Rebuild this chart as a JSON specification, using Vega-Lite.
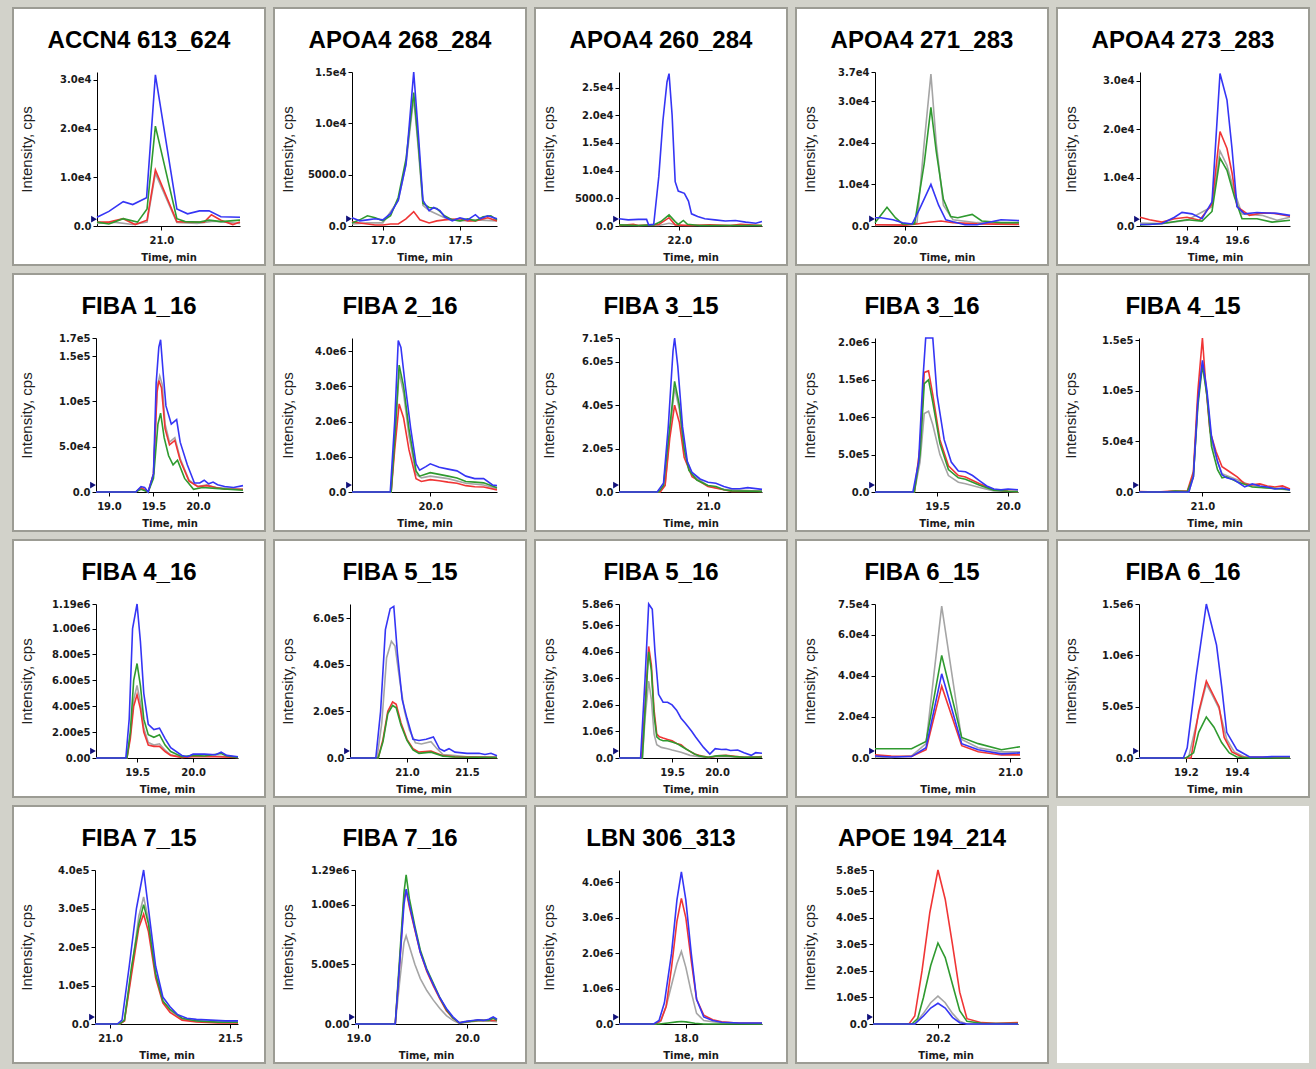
{
"$schema":"https://vega.github.io/schema/vega-lite/v6.json",
"padding":{"left":12,"top":7,"right":6,"bottom":5},
"background":"#d2d2ca",
"columns":5,
"spacing":9,
"bounds":"flush",
"datasets":{
"p1":[{"s":"k","t":20.73,"v":500},{"s":"k","t":20.8,"v":800},{"s":"k","t":20.88,"v":300},{"s":"k","t":20.94,"v":800},{"s":"k","t":20.975,"v":10800},{"s":"k","t":21.065,"v":700},{"s":"k","t":21.15,"v":500},{"s":"k","t":21.22,"v":1000},{"s":"k","t":21.33,"v":500},
{"s":"r","t":20.73,"v":800},{"s":"r","t":20.78,"v":800},{"s":"r","t":20.84,"v":1500},{"s":"r","t":20.89,"v":300},{"s":"r","t":20.94,"v":1200},{"s":"r","t":20.975,"v":11500},{"s":"r","t":21.065,"v":900},{"s":"r","t":21.12,"v":800},{"s":"r","t":21.18,"v":800},{"s":"r","t":21.21,"v":2300},{"s":"r","t":21.25,"v":1200},{"s":"r","t":21.3,"v":300},{"s":"r","t":21.33,"v":800},
{"s":"g","t":20.73,"v":800},{"s":"g","t":20.78,"v":400},{"s":"g","t":20.84,"v":1500},{"s":"g","t":20.9,"v":800},{"s":"g","t":20.94,"v":3500},{"s":"g","t":20.975,"v":20500},{"s":"g","t":21.065,"v":1500},{"s":"g","t":21.1,"v":900},{"s":"g","t":21.16,"v":800},{"s":"g","t":21.2,"v":1200},{"s":"g","t":21.25,"v":900},{"s":"g","t":21.33,"v":1200},
{"s":"b","t":20.73,"v":1800},{"s":"b","t":20.78,"v":3000},{"s":"b","t":20.84,"v":5000},{"s":"b","t":20.88,"v":4400},{"s":"b","t":20.938,"v":5800},{"s":"b","t":20.975,"v":31000},{"s":"b","t":21.065,"v":3500},{"s":"b","t":21.11,"v":2500},{"s":"b","t":21.16,"v":3100},{"s":"b","t":21.2,"v":3100},{"s":"b","t":21.25,"v":1900},{"s":"b","t":21.33,"v":1800},
{"s":"m","t":20.73,"v":1400}],
"p2":[{"s":"k","t":16.8,"v":200},{"s":"k","t":16.9,"v":300},{"s":"k","t":17.0,"v":300},{"s":"k","t":17.1,"v":2500},{"s":"k","t":17.15,"v":6000},{"s":"k","t":17.2,"v":12500},{"s":"k","t":17.23,"v":7500},{"s":"k","t":17.26,"v":2000},{"s":"k","t":17.3,"v":1500},{"s":"k","t":17.4,"v":800},{"s":"k","t":17.5,"v":500},{"s":"k","t":17.6,"v":600},{"s":"k","t":17.74,"v":500},
{"s":"r","t":16.8,"v":400},{"s":"r","t":16.85,"v":300},{"s":"r","t":16.9,"v":200},{"s":"r","t":16.95,"v":100},{"s":"r","t":17.0,"v":100},{"s":"r","t":17.05,"v":200},{"s":"r","t":17.1,"v":200},{"s":"r","t":17.15,"v":700},{"s":"r","t":17.2,"v":1400},{"s":"r","t":17.24,"v":600},{"s":"r","t":17.3,"v":300},{"s":"r","t":17.35,"v":500},{"s":"r","t":17.4,"v":600},{"s":"r","t":17.5,"v":700},{"s":"r","t":17.55,"v":500},{"s":"r","t":17.6,"v":500},{"s":"r","t":17.68,"v":800},{"s":"r","t":17.74,"v":500},
{"s":"g","t":16.8,"v":300},{"s":"g","t":16.85,"v":600},{"s":"g","t":16.9,"v":1000},{"s":"g","t":16.95,"v":800},{"s":"g","t":17.0,"v":500},{"s":"g","t":17.05,"v":1000},{"s":"g","t":17.1,"v":2800},{"s":"g","t":17.15,"v":6500},{"s":"g","t":17.2,"v":13000},{"s":"g","t":17.23,"v":8000},{"s":"g","t":17.26,"v":2200},{"s":"g","t":17.3,"v":1800},{"s":"g","t":17.35,"v":1700},{"s":"g","t":17.4,"v":1000},{"s":"g","t":17.45,"v":600},{"s":"g","t":17.5,"v":500},{"s":"g","t":17.55,"v":700},{"s":"g","t":17.6,"v":500},{"s":"g","t":17.65,"v":900},{"s":"g","t":17.7,"v":1000},{"s":"g","t":17.74,"v":600},
{"s":"b","t":16.8,"v":800},{"s":"b","t":16.85,"v":500},{"s":"b","t":16.9,"v":600},{"s":"b","t":16.95,"v":700},{"s":"b","t":17.0,"v":600},{"s":"b","t":17.05,"v":1200},{"s":"b","t":17.1,"v":2500},{"s":"b","t":17.15,"v":6000},{"s":"b","t":17.2,"v":15000},{"s":"b","t":17.23,"v":9000},{"s":"b","t":17.26,"v":2500},{"s":"b","t":17.3,"v":1500},{"s":"b","t":17.33,"v":1800},{"s":"b","t":17.37,"v":1500},{"s":"b","t":17.4,"v":900},{"s":"b","t":17.45,"v":500},{"s":"b","t":17.5,"v":800},{"s":"b","t":17.55,"v":600},{"s":"b","t":17.6,"v":1100},{"s":"b","t":17.63,"v":700},{"s":"b","t":17.68,"v":1000},{"s":"b","t":17.74,"v":700},
{"s":"m","t":16.8,"v":700}],
"p3":[{"s":"k","t":21.41,"v":100},{"s":"k","t":21.8,"v":100},{"s":"k","t":21.9,"v":500},{"s":"k","t":22.0,"v":100},{"s":"k","t":22.81,"v":100},
{"s":"r","t":21.41,"v":100},{"s":"r","t":21.55,"v":300},{"s":"r","t":21.6,"v":100},{"s":"r","t":21.8,"v":300},{"s":"r","t":21.9,"v":1500},{"s":"r","t":21.96,"v":200},{"s":"r","t":22.1,"v":100},{"s":"r","t":22.3,"v":200},{"s":"r","t":22.5,"v":100},{"s":"r","t":22.6,"v":300},{"s":"r","t":22.81,"v":100},
{"s":"g","t":21.41,"v":200},{"s":"g","t":21.6,"v":100},{"s":"g","t":21.75,"v":200},{"s":"g","t":21.82,"v":800},{"s":"g","t":21.9,"v":2000},{"s":"g","t":21.96,"v":800},{"s":"g","t":21.99,"v":300},{"s":"g","t":22.04,"v":1000},{"s":"g","t":22.08,"v":300},{"s":"g","t":22.2,"v":100},{"s":"g","t":22.5,"v":100},{"s":"g","t":22.81,"v":100},
{"s":"b","t":21.41,"v":1300},{"s":"b","t":21.5,"v":1100},{"s":"b","t":21.6,"v":1200},{"s":"b","t":21.68,"v":1200},{"s":"b","t":21.7,"v":200},{"s":"b","t":21.75,"v":300},{"s":"b","t":21.8,"v":9000},{"s":"b","t":21.84,"v":19000},{"s":"b","t":21.88,"v":26000},{"s":"b","t":21.9,"v":27500},{"s":"b","t":21.93,"v":20000},{"s":"b","t":21.96,"v":8000},{"s":"b","t":21.99,"v":6300},{"s":"b","t":22.05,"v":5900},{"s":"b","t":22.09,"v":4500},{"s":"b","t":22.12,"v":2200},{"s":"b","t":22.18,"v":1700},{"s":"b","t":22.25,"v":1300},{"s":"b","t":22.35,"v":1100},{"s":"b","t":22.45,"v":900},{"s":"b","t":22.55,"v":1000},{"s":"b","t":22.65,"v":700},{"s":"b","t":22.75,"v":500},{"s":"b","t":22.81,"v":800},
{"s":"m","t":21.41,"v":1250}],
"p4":[{"s":"k","t":19.875,"v":300},{"s":"k","t":20.0,"v":300},{"s":"k","t":20.05,"v":800},{"s":"k","t":20.08,"v":20000},{"s":"k","t":20.108,"v":36500},{"s":"k","t":20.13,"v":20000},{"s":"k","t":20.16,"v":5000},{"s":"k","t":20.2,"v":1500},{"s":"k","t":20.3,"v":800},{"s":"k","t":20.475,"v":500},
{"s":"r","t":19.875,"v":300},{"s":"r","t":20.0,"v":200},{"s":"r","t":20.05,"v":500},{"s":"r","t":20.1,"v":900},{"s":"r","t":20.15,"v":1200},{"s":"r","t":20.2,"v":800},{"s":"r","t":20.3,"v":500},{"s":"r","t":20.475,"v":400},
{"s":"g","t":19.875,"v":800},{"s":"g","t":19.925,"v":4500},{"s":"g","t":19.96,"v":2000},{"s":"g","t":19.99,"v":500},{"s":"g","t":20.04,"v":500},{"s":"g","t":20.08,"v":15000},{"s":"g","t":20.108,"v":28500},{"s":"g","t":20.13,"v":18000},{"s":"g","t":20.16,"v":6400},{"s":"g","t":20.19,"v":2300},{"s":"g","t":20.22,"v":2000},{"s":"g","t":20.28,"v":2800},{"s":"g","t":20.32,"v":1200},{"s":"g","t":20.4,"v":800},{"s":"g","t":20.475,"v":800},
{"s":"b","t":19.875,"v":2000},{"s":"b","t":19.9,"v":2000},{"s":"b","t":19.95,"v":1500},{"s":"b","t":19.99,"v":800},{"s":"b","t":20.03,"v":500},{"s":"b","t":20.06,"v":4000},{"s":"b","t":20.108,"v":10000},{"s":"b","t":20.14,"v":5000},{"s":"b","t":20.17,"v":1500},{"s":"b","t":20.2,"v":1000},{"s":"b","t":20.25,"v":300},{"s":"b","t":20.3,"v":300},{"s":"b","t":20.35,"v":900},{"s":"b","t":20.4,"v":1500},{"s":"b","t":20.475,"v":1300},
{"s":"m","t":19.875,"v":1700}],
"p5":[{"s":"k","t":19.212,"v":600},{"s":"k","t":19.3,"v":500},{"s":"k","t":19.4,"v":1200},{"s":"k","t":19.5,"v":4000},{"s":"k","t":19.532,"v":15500},{"s":"k","t":19.56,"v":12500},{"s":"k","t":19.59,"v":7000},{"s":"k","t":19.62,"v":2500},{"s":"k","t":19.7,"v":2200},{"s":"k","t":19.76,"v":1200},{"s":"k","t":19.812,"v":1800},
{"s":"r","t":19.212,"v":1800},{"s":"r","t":19.25,"v":1300},{"s":"r","t":19.3,"v":800},{"s":"r","t":19.35,"v":1500},{"s":"r","t":19.4,"v":1800},{"s":"r","t":19.45,"v":1200},{"s":"r","t":19.5,"v":4500},{"s":"r","t":19.532,"v":19500},{"s":"r","t":19.56,"v":16000},{"s":"r","t":19.58,"v":11000},{"s":"r","t":19.6,"v":4000},{"s":"r","t":19.65,"v":2200},{"s":"r","t":19.7,"v":2700},{"s":"r","t":19.75,"v":2600},{"s":"r","t":19.812,"v":2000},
{"s":"g","t":19.212,"v":200},{"s":"g","t":19.3,"v":500},{"s":"g","t":19.4,"v":1300},{"s":"g","t":19.46,"v":1000},{"s":"g","t":19.5,"v":3000},{"s":"g","t":19.532,"v":14000},{"s":"g","t":19.56,"v":11500},{"s":"g","t":19.59,"v":6000},{"s":"g","t":19.62,"v":1500},{"s":"g","t":19.68,"v":1500},{"s":"g","t":19.74,"v":800},{"s":"g","t":19.812,"v":1200},
{"s":"b","t":19.212,"v":300},{"s":"b","t":19.25,"v":300},{"s":"b","t":19.3,"v":500},{"s":"b","t":19.35,"v":1800},{"s":"b","t":19.38,"v":2800},{"s":"b","t":19.42,"v":2500},{"s":"b","t":19.46,"v":1500},{"s":"b","t":19.5,"v":5000},{"s":"b","t":19.532,"v":31500},{"s":"b","t":19.56,"v":26000},{"s":"b","t":19.58,"v":16000},{"s":"b","t":19.6,"v":4000},{"s":"b","t":19.63,"v":2500},{"s":"b","t":19.68,"v":2800},{"s":"b","t":19.72,"v":2700},{"s":"b","t":19.76,"v":2600},{"s":"b","t":19.812,"v":2200},
{"s":"m","t":19.212,"v":1400}],
"p6":[{"s":"k","t":18.854,"v":0},{"s":"k","t":19.3,"v":0},{"s":"k","t":19.36,"v":4000},{"s":"k","t":19.44,"v":0},{"s":"k","t":19.5,"v":20000},{"s":"k","t":19.54,"v":115000},{"s":"k","t":19.57,"v":128000},{"s":"k","t":19.6,"v":118000},{"s":"k","t":19.63,"v":75000},{"s":"k","t":19.68,"v":55000},{"s":"k","t":19.74,"v":60000},{"s":"k","t":19.8,"v":37000},{"s":"k","t":19.9,"v":13000},{"s":"k","t":20.0,"v":6000},{"s":"k","t":20.1,"v":8000},{"s":"k","t":20.2,"v":5000},{"s":"k","t":20.506,"v":3000},
{"s":"r","t":18.854,"v":0},{"s":"r","t":19.3,"v":0},{"s":"r","t":19.36,"v":5000},{"s":"r","t":19.44,"v":0},{"s":"r","t":19.5,"v":20000},{"s":"r","t":19.54,"v":110000},{"s":"r","t":19.56,"v":123000},{"s":"r","t":19.59,"v":115000},{"s":"r","t":19.63,"v":70000},{"s":"r","t":19.68,"v":52000},{"s":"r","t":19.74,"v":57000},{"s":"r","t":19.8,"v":35000},{"s":"r","t":19.9,"v":12000},{"s":"r","t":20.0,"v":6000},{"s":"r","t":20.1,"v":7000},{"s":"r","t":20.2,"v":5000},{"s":"r","t":20.3,"v":3000},{"s":"r","t":20.506,"v":3000},
{"s":"g","t":18.854,"v":0},{"s":"g","t":19.3,"v":0},{"s":"g","t":19.36,"v":3000},{"s":"g","t":19.44,"v":0},{"s":"g","t":19.5,"v":15000},{"s":"g","t":19.55,"v":75000},{"s":"g","t":19.58,"v":87000},{"s":"g","t":19.62,"v":60000},{"s":"g","t":19.67,"v":40000},{"s":"g","t":19.72,"v":30000},{"s":"g","t":19.77,"v":35000},{"s":"g","t":19.85,"v":15000},{"s":"g","t":19.95,"v":3000},{"s":"g","t":20.05,"v":5000},{"s":"g","t":20.2,"v":4000},{"s":"g","t":20.506,"v":2000},
{"s":"b","t":18.854,"v":0},{"s":"b","t":19.3,"v":0},{"s":"b","t":19.36,"v":6000},{"s":"b","t":19.4,"v":5000},{"s":"b","t":19.44,"v":0},{"s":"b","t":19.5,"v":20000},{"s":"b","t":19.53,"v":120000},{"s":"b","t":19.56,"v":160000},{"s":"b","t":19.58,"v":168000},{"s":"b","t":19.61,"v":130000},{"s":"b","t":19.64,"v":95000},{"s":"b","t":19.7,"v":75000},{"s":"b","t":19.76,"v":80000},{"s":"b","t":19.8,"v":55000},{"s":"b","t":19.88,"v":30000},{"s":"b","t":19.96,"v":10000},{"s":"b","t":20.02,"v":10000},{"s":"b","t":20.07,"v":13000},{"s":"b","t":20.12,"v":9000},{"s":"b","t":20.17,"v":11000},{"s":"b","t":20.22,"v":8000},{"s":"b","t":20.3,"v":6000},{"s":"b","t":20.4,"v":5000},{"s":"b","t":20.506,"v":7000},
{"s":"m","t":18.854,"v":7600}],
"p7":[{"s":"k","t":19.12,"v":0},{"s":"k","t":19.56,"v":0},{"s":"k","t":19.6,"v":1400000},{"s":"k","t":19.65,"v":3400000},{"s":"k","t":19.7,"v":2800000},{"s":"k","t":19.76,"v":1600000},{"s":"k","t":19.84,"v":500000},{"s":"k","t":19.9,"v":400000},{"s":"k","t":20.0,"v":450000},{"s":"k","t":20.2,"v":380000},{"s":"k","t":20.4,"v":250000},{"s":"k","t":20.6,"v":200000},{"s":"k","t":20.75,"v":100000},
{"s":"r","t":19.12,"v":0},{"s":"r","t":19.56,"v":0},{"s":"r","t":19.6,"v":1200000},{"s":"r","t":19.65,"v":2500000},{"s":"r","t":19.7,"v":2100000},{"s":"r","t":19.76,"v":1200000},{"s":"r","t":19.84,"v":380000},{"s":"r","t":19.9,"v":300000},{"s":"r","t":20.0,"v":350000},{"s":"r","t":20.1,"v":320000},{"s":"r","t":20.2,"v":280000},{"s":"r","t":20.3,"v":250000},{"s":"r","t":20.4,"v":180000},{"s":"r","t":20.5,"v":150000},{"s":"r","t":20.6,"v":140000},{"s":"r","t":20.75,"v":60000},
{"s":"g","t":19.12,"v":0},{"s":"g","t":19.56,"v":0},{"s":"g","t":19.6,"v":1500000},{"s":"g","t":19.65,"v":3600000},{"s":"g","t":19.7,"v":3000000},{"s":"g","t":19.76,"v":1800000},{"s":"g","t":19.84,"v":600000},{"s":"g","t":19.88,"v":450000},{"s":"g","t":20.0,"v":550000},{"s":"g","t":20.1,"v":500000},{"s":"g","t":20.2,"v":450000},{"s":"g","t":20.3,"v":400000},{"s":"g","t":20.4,"v":300000},{"s":"g","t":20.5,"v":280000},{"s":"g","t":20.6,"v":260000},{"s":"g","t":20.75,"v":120000},
{"s":"b","t":19.12,"v":0},{"s":"b","t":19.55,"v":0},{"s":"b","t":19.6,"v":2000000},{"s":"b","t":19.64,"v":4300000},{"s":"b","t":19.67,"v":4100000},{"s":"b","t":19.72,"v":3000000},{"s":"b","t":19.78,"v":1800000},{"s":"b","t":19.84,"v":800000},{"s":"b","t":19.88,"v":620000},{"s":"b","t":19.95,"v":720000},{"s":"b","t":20.0,"v":800000},{"s":"b","t":20.1,"v":700000},{"s":"b","t":20.2,"v":650000},{"s":"b","t":20.3,"v":600000},{"s":"b","t":20.4,"v":450000},{"s":"b","t":20.5,"v":380000},{"s":"b","t":20.6,"v":380000},{"s":"b","t":20.7,"v":200000},{"s":"b","t":20.75,"v":180000},
{"s":"m","t":19.12,"v":197000}],
"p8":[{"s":"k","t":20.44,"v":0},{"s":"k","t":20.69,"v":0},{"s":"k","t":20.73,"v":30000},{"s":"k","t":20.76,"v":280000},{"s":"k","t":20.79,"v":480000},{"s":"k","t":20.82,"v":380000},{"s":"k","t":20.85,"v":180000},{"s":"k","t":20.9,"v":80000},{"s":"k","t":21.0,"v":28000},{"s":"k","t":21.1,"v":12000},{"s":"k","t":21.34,"v":3000},
{"s":"r","t":20.44,"v":0},{"s":"r","t":20.7,"v":0},{"s":"r","t":20.73,"v":30000},{"s":"r","t":20.76,"v":250000},{"s":"r","t":20.79,"v":400000},{"s":"r","t":20.82,"v":320000},{"s":"r","t":20.85,"v":160000},{"s":"r","t":20.9,"v":70000},{"s":"r","t":21.0,"v":25000},{"s":"r","t":21.1,"v":10000},{"s":"r","t":21.15,"v":2000},{"s":"r","t":21.34,"v":2000},
{"s":"g","t":20.44,"v":0},{"s":"g","t":20.69,"v":0},{"s":"g","t":20.72,"v":30000},{"s":"g","t":20.76,"v":300000},{"s":"g","t":20.79,"v":510000},{"s":"g","t":20.82,"v":400000},{"s":"g","t":20.85,"v":200000},{"s":"g","t":20.88,"v":100000},{"s":"g","t":20.93,"v":55000},{"s":"g","t":21.0,"v":30000},{"s":"g","t":21.05,"v":25000},{"s":"g","t":21.1,"v":10000},{"s":"g","t":21.15,"v":5000},{"s":"g","t":21.34,"v":3000},
{"s":"b","t":20.44,"v":0},{"s":"b","t":20.68,"v":0},{"s":"b","t":20.72,"v":40000},{"s":"b","t":20.75,"v":300000},{"s":"b","t":20.78,"v":650000},{"s":"b","t":20.79,"v":710000},{"s":"b","t":20.81,"v":580000},{"s":"b","t":20.84,"v":300000},{"s":"b","t":20.87,"v":140000},{"s":"b","t":20.9,"v":90000},{"s":"b","t":20.95,"v":60000},{"s":"b","t":21.0,"v":45000},{"s":"b","t":21.05,"v":40000},{"s":"b","t":21.1,"v":25000},{"s":"b","t":21.15,"v":15000},{"s":"b","t":21.2,"v":15000},{"s":"b","t":21.25,"v":20000},{"s":"b","t":21.34,"v":12000},
{"s":"m","t":20.44,"v":32000}],
"p9":[{"s":"k","t":19.063,"v":0},{"s":"k","t":19.34,"v":0},{"s":"k","t":19.38,"v":400000},{"s":"k","t":19.41,"v":1050000},{"s":"k","t":19.44,"v":1080000},{"s":"k","t":19.47,"v":900000},{"s":"k","t":19.52,"v":500000},{"s":"k","t":19.58,"v":220000},{"s":"k","t":19.65,"v":130000},{"s":"k","t":19.7,"v":110000},{"s":"k","t":19.8,"v":60000},{"s":"k","t":19.9,"v":15000},{"s":"k","t":20.07,"v":5000},
{"s":"r","t":19.063,"v":0},{"s":"r","t":19.34,"v":0},{"s":"r","t":19.38,"v":600000},{"s":"r","t":19.41,"v":1600000},{"s":"r","t":19.44,"v":1620000},{"s":"r","t":19.47,"v":1300000},{"s":"r","t":19.52,"v":700000},{"s":"r","t":19.58,"v":350000},{"s":"r","t":19.65,"v":220000},{"s":"r","t":19.7,"v":200000},{"s":"r","t":19.8,"v":110000},{"s":"r","t":19.9,"v":30000},{"s":"r","t":20.0,"v":10000},{"s":"r","t":20.07,"v":5000},
{"s":"g","t":19.063,"v":0},{"s":"g","t":19.34,"v":0},{"s":"g","t":19.38,"v":500000},{"s":"g","t":19.41,"v":1450000},{"s":"g","t":19.44,"v":1500000},{"s":"g","t":19.47,"v":1200000},{"s":"g","t":19.52,"v":650000},{"s":"g","t":19.58,"v":300000},{"s":"g","t":19.65,"v":190000},{"s":"g","t":19.7,"v":170000},{"s":"g","t":19.8,"v":90000},{"s":"g","t":19.9,"v":25000},{"s":"g","t":20.0,"v":10000},{"s":"g","t":20.07,"v":5000},
{"s":"b","t":19.063,"v":0},{"s":"b","t":19.33,"v":0},{"s":"b","t":19.37,"v":400000},{"s":"b","t":19.4,"v":1500000},{"s":"b","t":19.42,"v":2060000},{"s":"b","t":19.47,"v":2060000},{"s":"b","t":19.5,"v":1300000},{"s":"b","t":19.55,"v":700000},{"s":"b","t":19.6,"v":400000},{"s":"b","t":19.65,"v":280000},{"s":"b","t":19.7,"v":270000},{"s":"b","t":19.75,"v":220000},{"s":"b","t":19.8,"v":150000},{"s":"b","t":19.85,"v":80000},{"s":"b","t":19.9,"v":40000},{"s":"b","t":19.95,"v":30000},{"s":"b","t":20.0,"v":40000},{"s":"b","t":20.07,"v":30000},
{"s":"m","t":19.063,"v":93000}],
"p10":[{"s":"k","t":20.58,"v":0},{"s":"k","t":20.91,"v":0},{"s":"k","t":20.94,"v":15000},{"s":"k","t":20.97,"v":90000},{"s":"k","t":21.0,"v":128000},{"s":"k","t":21.03,"v":96000},{"s":"k","t":21.06,"v":50000},{"s":"k","t":21.1,"v":30000},{"s":"k","t":21.13,"v":18000},{"s":"k","t":21.23,"v":12000},{"s":"k","t":21.33,"v":6000},{"s":"k","t":21.43,"v":4000},{"s":"k","t":21.58,"v":2000},
{"s":"r","t":20.58,"v":500},{"s":"r","t":20.7,"v":0},{"s":"r","t":20.8,"v":1000},{"s":"r","t":20.9,"v":1000},{"s":"r","t":20.94,"v":20000},{"s":"r","t":20.97,"v":100000},{"s":"r","t":21.0,"v":152000},{"s":"r","t":21.02,"v":110000},{"s":"r","t":21.05,"v":60000},{"s":"r","t":21.09,"v":40000},{"s":"r","t":21.13,"v":25000},{"s":"r","t":21.18,"v":20000},{"s":"r","t":21.23,"v":15000},{"s":"r","t":21.28,"v":8000},{"s":"r","t":21.33,"v":7000},{"s":"r","t":21.38,"v":8000},{"s":"r","t":21.43,"v":6000},{"s":"r","t":21.48,"v":5000},{"s":"r","t":21.53,"v":6000},{"s":"r","t":21.58,"v":3000},
{"s":"g","t":20.58,"v":0},{"s":"g","t":20.75,"v":0},{"s":"g","t":20.82,"v":1000},{"s":"g","t":20.9,"v":500},{"s":"g","t":20.94,"v":15000},{"s":"g","t":20.97,"v":85000},{"s":"g","t":21.0,"v":125000},{"s":"g","t":21.03,"v":95000},{"s":"g","t":21.06,"v":45000},{"s":"g","t":21.1,"v":22000},{"s":"g","t":21.13,"v":14000},{"s":"g","t":21.16,"v":15000},{"s":"g","t":21.23,"v":10000},{"s":"g","t":21.33,"v":5000},{"s":"g","t":21.43,"v":4000},{"s":"g","t":21.53,"v":3000},{"s":"g","t":21.58,"v":2000},
{"s":"b","t":20.58,"v":0},{"s":"b","t":20.91,"v":0},{"s":"b","t":20.94,"v":15000},{"s":"b","t":20.97,"v":90000},{"s":"b","t":21.0,"v":130000},{"s":"b","t":21.03,"v":100000},{"s":"b","t":21.06,"v":55000},{"s":"b","t":21.1,"v":30000},{"s":"b","t":21.13,"v":17000},{"s":"b","t":21.16,"v":14000},{"s":"b","t":21.21,"v":12000},{"s":"b","t":21.28,"v":5000},{"s":"b","t":21.33,"v":8000},{"s":"b","t":21.38,"v":6000},{"s":"b","t":21.43,"v":5000},{"s":"b","t":21.48,"v":3000},{"s":"b","t":21.53,"v":4000},{"s":"b","t":21.58,"v":2000},
{"s":"m","t":20.58,"v":6800}],
"p11":[{"s":"k","t":19.134,"v":0},{"s":"k","t":19.41,"v":0},{"s":"k","t":19.44,"v":180000},{"s":"k","t":19.47,"v":450000},{"s":"k","t":19.5,"v":560000},{"s":"k","t":19.53,"v":430000},{"s":"k","t":19.56,"v":230000},{"s":"k","t":19.6,"v":120000},{"s":"k","t":19.65,"v":100000},{"s":"k","t":19.7,"v":110000},{"s":"k","t":19.75,"v":60000},{"s":"k","t":19.8,"v":25000},{"s":"k","t":19.9,"v":5000},{"s":"k","t":20.0,"v":15000},{"s":"k","t":20.2,"v":15000},{"s":"k","t":20.4,"v":5000},
{"s":"r","t":19.134,"v":0},{"s":"r","t":19.41,"v":0},{"s":"r","t":19.44,"v":150000},{"s":"r","t":19.47,"v":400000},{"s":"r","t":19.5,"v":490000},{"s":"r","t":19.53,"v":380000},{"s":"r","t":19.56,"v":200000},{"s":"r","t":19.6,"v":100000},{"s":"r","t":19.65,"v":90000},{"s":"r","t":19.7,"v":90000},{"s":"r","t":19.75,"v":50000},{"s":"r","t":19.8,"v":20000},{"s":"r","t":19.9,"v":5000},{"s":"r","t":20.0,"v":10000},{"s":"r","t":20.2,"v":10000},{"s":"r","t":20.4,"v":5000},
{"s":"g","t":19.134,"v":0},{"s":"g","t":19.41,"v":0},{"s":"g","t":19.44,"v":200000},{"s":"g","t":19.47,"v":600000},{"s":"g","t":19.5,"v":730000},{"s":"g","t":19.53,"v":560000},{"s":"g","t":19.56,"v":300000},{"s":"g","t":19.6,"v":180000},{"s":"g","t":19.65,"v":160000},{"s":"g","t":19.7,"v":180000},{"s":"g","t":19.75,"v":100000},{"s":"g","t":19.8,"v":50000},{"s":"g","t":19.9,"v":10000},{"s":"g","t":20.0,"v":20000},{"s":"g","t":20.1,"v":15000},{"s":"g","t":20.25,"v":35000},{"s":"g","t":20.3,"v":15000},{"s":"g","t":20.4,"v":5000},
{"s":"b","t":19.134,"v":0},{"s":"b","t":19.4,"v":0},{"s":"b","t":19.43,"v":300000},{"s":"b","t":19.46,"v":1000000},{"s":"b","t":19.5,"v":1190000},{"s":"b","t":19.53,"v":900000},{"s":"b","t":19.56,"v":500000},{"s":"b","t":19.6,"v":260000},{"s":"b","t":19.65,"v":220000},{"s":"b","t":19.7,"v":230000},{"s":"b","t":19.75,"v":150000},{"s":"b","t":19.8,"v":80000},{"s":"b","t":19.9,"v":20000},{"s":"b","t":19.95,"v":10000},{"s":"b","t":20.0,"v":30000},{"s":"b","t":20.1,"v":30000},{"s":"b","t":20.2,"v":25000},{"s":"b","t":20.25,"v":45000},{"s":"b","t":20.3,"v":20000},{"s":"b","t":20.4,"v":10000},
{"s":"m","t":19.134,"v":54000}],
"p12":[{"s":"k","t":20.525,"v":0},{"s":"k","t":20.75,"v":0},{"s":"k","t":20.79,"v":150000},{"s":"k","t":20.83,"v":430000},{"s":"k","t":20.87,"v":500000},{"s":"k","t":20.9,"v":480000},{"s":"k","t":20.94,"v":330000},{"s":"k","t":20.98,"v":200000},{"s":"k","t":21.02,"v":120000},{"s":"k","t":21.07,"v":65000},{"s":"k","t":21.12,"v":60000},{"s":"k","t":21.2,"v":70000},{"s":"k","t":21.25,"v":40000},{"s":"k","t":21.3,"v":15000},{"s":"k","t":21.4,"v":10000},{"s":"k","t":21.5,"v":5000},{"s":"k","t":21.75,"v":5000},
{"s":"r","t":20.525,"v":0},{"s":"r","t":20.76,"v":0},{"s":"r","t":20.8,"v":80000},{"s":"r","t":20.84,"v":200000},{"s":"r","t":20.88,"v":240000},{"s":"r","t":20.91,"v":230000},{"s":"r","t":20.95,"v":150000},{"s":"r","t":21.0,"v":80000},{"s":"r","t":21.05,"v":40000},{"s":"r","t":21.1,"v":25000},{"s":"r","t":21.2,"v":30000},{"s":"r","t":21.3,"v":10000},{"s":"r","t":21.4,"v":5000},{"s":"r","t":21.75,"v":2000},
{"s":"g","t":20.525,"v":0},{"s":"g","t":20.76,"v":0},{"s":"g","t":20.8,"v":70000},{"s":"g","t":20.84,"v":190000},{"s":"g","t":20.88,"v":225000},{"s":"g","t":20.91,"v":215000},{"s":"g","t":20.95,"v":140000},{"s":"g","t":21.0,"v":75000},{"s":"g","t":21.05,"v":35000},{"s":"g","t":21.1,"v":20000},{"s":"g","t":21.2,"v":25000},{"s":"g","t":21.3,"v":8000},{"s":"g","t":21.4,"v":4000},{"s":"g","t":21.75,"v":2000},
{"s":"b","t":20.525,"v":0},{"s":"b","t":20.74,"v":0},{"s":"b","t":20.78,"v":200000},{"s":"b","t":20.82,"v":550000},{"s":"b","t":20.86,"v":640000},{"s":"b","t":20.89,"v":650000},{"s":"b","t":20.92,"v":450000},{"s":"b","t":20.96,"v":250000},{"s":"b","t":21.0,"v":170000},{"s":"b","t":21.05,"v":80000},{"s":"b","t":21.1,"v":75000},{"s":"b","t":21.16,"v":80000},{"s":"b","t":21.22,"v":90000},{"s":"b","t":21.27,"v":40000},{"s":"b","t":21.31,"v":30000},{"s":"b","t":21.35,"v":40000},{"s":"b","t":21.4,"v":25000},{"s":"b","t":21.5,"v":20000},{"s":"b","t":21.6,"v":20000},{"s":"b","t":21.65,"v":15000},{"s":"b","t":21.7,"v":20000},{"s":"b","t":21.75,"v":10000},
{"s":"m","t":20.525,"v":30000}],
"p13":[{"s":"k","t":18.91,"v":0},{"s":"k","t":19.17,"v":0},{"s":"k","t":19.2,"v":1500000},{"s":"k","t":19.24,"v":2900000},{"s":"k","t":19.27,"v":2200000},{"s":"k","t":19.3,"v":900000},{"s":"k","t":19.33,"v":500000},{"s":"k","t":19.38,"v":400000},{"s":"k","t":19.45,"v":350000},{"s":"k","t":19.5,"v":300000},{"s":"k","t":19.6,"v":220000},{"s":"k","t":19.7,"v":100000},{"s":"k","t":19.8,"v":50000},{"s":"k","t":19.9,"v":20000},{"s":"k","t":20.0,"v":60000},{"s":"k","t":20.2,"v":40000},{"s":"k","t":20.5,"v":30000},
{"s":"r","t":18.91,"v":0},{"s":"r","t":19.16,"v":0},{"s":"r","t":19.2,"v":2000000},{"s":"r","t":19.24,"v":4200000},{"s":"r","t":19.27,"v":3500000},{"s":"r","t":19.3,"v":1800000},{"s":"r","t":19.33,"v":900000},{"s":"r","t":19.36,"v":800000},{"s":"r","t":19.4,"v":750000},{"s":"r","t":19.45,"v":700000},{"s":"r","t":19.5,"v":650000},{"s":"r","t":19.55,"v":550000},{"s":"r","t":19.6,"v":500000},{"s":"r","t":19.65,"v":350000},{"s":"r","t":19.7,"v":250000},{"s":"r","t":19.75,"v":150000},{"s":"r","t":19.8,"v":100000},{"s":"r","t":19.85,"v":60000},{"s":"r","t":19.92,"v":20000},{"s":"r","t":20.0,"v":80000},{"s":"r","t":20.1,"v":100000},{"s":"r","t":20.2,"v":60000},{"s":"r","t":20.3,"v":30000},{"s":"r","t":20.4,"v":30000},{"s":"r","t":20.5,"v":50000},
{"s":"g","t":18.91,"v":0},{"s":"g","t":19.17,"v":0},{"s":"g","t":19.2,"v":1800000},{"s":"g","t":19.24,"v":4000000},{"s":"g","t":19.27,"v":3300000},{"s":"g","t":19.3,"v":1600000},{"s":"g","t":19.33,"v":800000},{"s":"g","t":19.36,"v":700000},{"s":"g","t":19.4,"v":650000},{"s":"g","t":19.45,"v":650000},{"s":"g","t":19.5,"v":600000},{"s":"g","t":19.55,"v":550000},{"s":"g","t":19.6,"v":450000},{"s":"g","t":19.65,"v":350000},{"s":"g","t":19.7,"v":250000},{"s":"g","t":19.75,"v":150000},{"s":"g","t":19.8,"v":80000},{"s":"g","t":19.9,"v":30000},{"s":"g","t":20.0,"v":80000},{"s":"g","t":20.1,"v":90000},{"s":"g","t":20.2,"v":50000},{"s":"g","t":20.3,"v":30000},{"s":"g","t":20.5,"v":40000},
{"s":"b","t":18.91,"v":0},{"s":"b","t":19.15,"v":0},{"s":"b","t":19.2,"v":3000000},{"s":"b","t":19.24,"v":5800000},{"s":"b","t":19.28,"v":5600000},{"s":"b","t":19.31,"v":4000000},{"s":"b","t":19.35,"v":2400000},{"s":"b","t":19.4,"v":2100000},{"s":"b","t":19.45,"v":2100000},{"s":"b","t":19.5,"v":2000000},{"s":"b","t":19.55,"v":1800000},{"s":"b","t":19.6,"v":1500000},{"s":"b","t":19.65,"v":1300000},{"s":"b","t":19.72,"v":1000000},{"s":"b","t":19.76,"v":800000},{"s":"b","t":19.85,"v":400000},{"s":"b","t":19.92,"v":150000},{"s":"b","t":19.98,"v":350000},{"s":"b","t":20.05,"v":320000},{"s":"b","t":20.1,"v":330000},{"s":"b","t":20.15,"v":280000},{"s":"b","t":20.23,"v":300000},{"s":"b","t":20.3,"v":200000},{"s":"b","t":20.38,"v":100000},{"s":"b","t":20.43,"v":200000},{"s":"b","t":20.5,"v":180000},
{"s":"m","t":18.91,"v":260000}],
"p14":[{"s":"k","t":20.534,"v":500},{"s":"k","t":20.59,"v":300},{"s":"k","t":20.66,"v":1000},{"s":"k","t":20.71,"v":7000},{"s":"k","t":20.764,"v":74000},{"s":"k","t":20.833,"v":9000},{"s":"k","t":20.89,"v":5000},{"s":"k","t":20.97,"v":3000},{"s":"k","t":21.034,"v":3000},
{"s":"r","t":20.534,"v":1500},{"s":"r","t":20.59,"v":1000},{"s":"r","t":20.66,"v":800},{"s":"r","t":20.71,"v":4000},{"s":"r","t":20.764,"v":35000},{"s":"r","t":20.833,"v":6000},{"s":"r","t":20.89,"v":3000},{"s":"r","t":20.97,"v":1500},{"s":"r","t":21.034,"v":1500},
{"s":"g","t":20.534,"v":4500},{"s":"g","t":20.59,"v":4500},{"s":"g","t":20.66,"v":4500},{"s":"g","t":20.71,"v":8000},{"s":"g","t":20.764,"v":50000},{"s":"g","t":20.833,"v":10000},{"s":"g","t":20.89,"v":7000},{"s":"g","t":20.97,"v":4000},{"s":"g","t":21.034,"v":5500},
{"s":"b","t":20.534,"v":1000},{"s":"b","t":20.59,"v":500},{"s":"b","t":20.66,"v":700},{"s":"b","t":20.71,"v":5000},{"s":"b","t":20.764,"v":41000},{"s":"b","t":20.833,"v":7000},{"s":"b","t":20.89,"v":4000},{"s":"b","t":20.97,"v":2000},{"s":"b","t":21.034,"v":2500},
{"s":"m","t":20.534,"v":3400}],
"p15":[{"s":"k","t":19.016,"v":0},{"s":"k","t":19.21,"v":0},{"s":"k","t":19.25,"v":430000},{"s":"k","t":19.28,"v":720000},{"s":"k","t":19.3,"v":630000},{"s":"k","t":19.33,"v":480000},{"s":"k","t":19.36,"v":180000},{"s":"k","t":19.39,"v":60000},{"s":"k","t":19.43,"v":10000},{"s":"k","t":19.608,"v":5000},
{"s":"r","t":19.016,"v":0},{"s":"r","t":19.22,"v":0},{"s":"r","t":19.25,"v":450000},{"s":"r","t":19.28,"v":750000},{"s":"r","t":19.3,"v":650000},{"s":"r","t":19.33,"v":500000},{"s":"r","t":19.35,"v":200000},{"s":"r","t":19.38,"v":60000},{"s":"r","t":19.42,"v":10000},{"s":"r","t":19.608,"v":5000},
{"s":"g","t":19.016,"v":0},{"s":"g","t":19.2,"v":0},{"s":"g","t":19.23,"v":50000},{"s":"g","t":19.25,"v":250000},{"s":"g","t":19.28,"v":400000},{"s":"g","t":19.31,"v":300000},{"s":"g","t":19.34,"v":150000},{"s":"g","t":19.37,"v":50000},{"s":"g","t":19.4,"v":10000},{"s":"g","t":19.45,"v":0},{"s":"g","t":19.608,"v":0},
{"s":"b","t":19.016,"v":0},{"s":"b","t":19.19,"v":0},{"s":"b","t":19.205,"v":100000},{"s":"b","t":19.24,"v":800000},{"s":"b","t":19.28,"v":1500000},{"s":"b","t":19.3,"v":1300000},{"s":"b","t":19.32,"v":1100000},{"s":"b","t":19.34,"v":700000},{"s":"b","t":19.36,"v":250000},{"s":"b","t":19.4,"v":80000},{"s":"b","t":19.45,"v":10000},{"s":"b","t":19.5,"v":10000},{"s":"b","t":19.55,"v":15000},{"s":"b","t":19.608,"v":15000},
{"s":"m","t":19.016,"v":68000}],
"p16":[{"s":"k","t":20.9375,"v":0},{"s":"k","t":21.04,"v":0},{"s":"k","t":21.06,"v":8000},{"s":"k","t":21.09,"v":140000},{"s":"k","t":21.12,"v":280000},{"s":"k","t":21.14,"v":330000},{"s":"k","t":21.16,"v":270000},{"s":"k","t":21.19,"v":130000},{"s":"k","t":21.22,"v":60000},{"s":"k","t":21.25,"v":35000},{"s":"k","t":21.3,"v":12000},{"s":"k","t":21.4,"v":5000},{"s":"k","t":21.533,"v":3000},
{"s":"r","t":20.9375,"v":0},{"s":"r","t":21.04,"v":0},{"s":"r","t":21.06,"v":8000},{"s":"r","t":21.09,"v":130000},{"s":"r","t":21.12,"v":250000},{"s":"r","t":21.14,"v":285000},{"s":"r","t":21.16,"v":240000},{"s":"r","t":21.19,"v":120000},{"s":"r","t":21.22,"v":55000},{"s":"r","t":21.25,"v":30000},{"s":"r","t":21.3,"v":10000},{"s":"r","t":21.36,"v":5000},{"s":"r","t":21.45,"v":3000},{"s":"r","t":21.533,"v":3000},
{"s":"g","t":20.9375,"v":0},{"s":"g","t":21.04,"v":0},{"s":"g","t":21.06,"v":10000},{"s":"g","t":21.09,"v":150000},{"s":"g","t":21.12,"v":260000},{"s":"g","t":21.14,"v":310000},{"s":"g","t":21.16,"v":260000},{"s":"g","t":21.19,"v":130000},{"s":"g","t":21.22,"v":60000},{"s":"g","t":21.25,"v":38000},{"s":"g","t":21.3,"v":15000},{"s":"g","t":21.36,"v":8000},{"s":"g","t":21.45,"v":5000},{"s":"g","t":21.533,"v":5000},
{"s":"b","t":20.9375,"v":0},{"s":"b","t":21.03,"v":0},{"s":"b","t":21.05,"v":10000},{"s":"b","t":21.08,"v":150000},{"s":"b","t":21.11,"v":300000},{"s":"b","t":21.14,"v":400000},{"s":"b","t":21.16,"v":300000},{"s":"b","t":21.19,"v":150000},{"s":"b","t":21.22,"v":70000},{"s":"b","t":21.25,"v":45000},{"s":"b","t":21.28,"v":25000},{"s":"b","t":21.32,"v":15000},{"s":"b","t":21.36,"v":12000},{"s":"b","t":21.42,"v":10000},{"s":"b","t":21.48,"v":8000},{"s":"b","t":21.533,"v":8000},
{"s":"m","t":20.9375,"v":18000}],
"p17":[{"s":"k","t":18.97,"v":0},{"s":"k","t":19.34,"v":0},{"s":"k","t":19.38,"v":350000},{"s":"k","t":19.42,"v":680000},{"s":"k","t":19.44,"v":740000},{"s":"k","t":19.47,"v":650000},{"s":"k","t":19.52,"v":500000},{"s":"k","t":19.57,"v":380000},{"s":"k","t":19.63,"v":280000},{"s":"k","t":19.69,"v":200000},{"s":"k","t":19.75,"v":130000},{"s":"k","t":19.81,"v":70000},{"s":"k","t":19.87,"v":30000},{"s":"k","t":19.93,"v":5000},{"s":"k","t":20.0,"v":15000},{"s":"k","t":20.1,"v":25000},{"s":"k","t":20.2,"v":25000},{"s":"k","t":20.275,"v":20000},
{"s":"r","t":18.97,"v":0},{"s":"r","t":19.34,"v":0},{"s":"r","t":19.38,"v":500000},{"s":"r","t":19.42,"v":1050000},{"s":"r","t":19.44,"v":1120000},{"s":"r","t":19.47,"v":980000},{"s":"r","t":19.52,"v":790000},{"s":"r","t":19.57,"v":600000},{"s":"r","t":19.63,"v":440000},{"s":"r","t":19.69,"v":320000},{"s":"r","t":19.75,"v":210000},{"s":"r","t":19.81,"v":110000},{"s":"r","t":19.87,"v":50000},{"s":"r","t":19.93,"v":10000},{"s":"r","t":20.0,"v":20000},{"s":"r","t":20.1,"v":30000},{"s":"r","t":20.2,"v":30000},{"s":"r","t":20.275,"v":30000},
{"s":"g","t":18.97,"v":0},{"s":"g","t":19.34,"v":0},{"s":"g","t":19.38,"v":550000},{"s":"g","t":19.42,"v":1100000},{"s":"g","t":19.44,"v":1250000},{"s":"g","t":19.47,"v":1050000},{"s":"g","t":19.52,"v":820000},{"s":"g","t":19.57,"v":620000},{"s":"g","t":19.63,"v":460000},{"s":"g","t":19.69,"v":340000},{"s":"g","t":19.75,"v":220000},{"s":"g","t":19.81,"v":120000},{"s":"g","t":19.87,"v":50000},{"s":"g","t":19.93,"v":10000},{"s":"g","t":20.0,"v":20000},{"s":"g","t":20.1,"v":30000},{"s":"g","t":20.2,"v":30000},{"s":"g","t":20.24,"v":50000},{"s":"g","t":20.275,"v":30000},
{"s":"b","t":18.97,"v":0},{"s":"b","t":19.34,"v":0},{"s":"b","t":19.38,"v":500000},{"s":"b","t":19.42,"v":1000000},{"s":"b","t":19.44,"v":1130000},{"s":"b","t":19.47,"v":1000000},{"s":"b","t":19.52,"v":800000},{"s":"b","t":19.57,"v":600000},{"s":"b","t":19.63,"v":450000},{"s":"b","t":19.69,"v":330000},{"s":"b","t":19.75,"v":220000},{"s":"b","t":19.81,"v":130000},{"s":"b","t":19.87,"v":60000},{"s":"b","t":19.93,"v":10000},{"s":"b","t":19.98,"v":20000},{"s":"b","t":20.05,"v":30000},{"s":"b","t":20.1,"v":35000},{"s":"b","t":20.15,"v":30000},{"s":"b","t":20.2,"v":40000},{"s":"b","t":20.24,"v":60000},{"s":"b","t":20.275,"v":40000},
{"s":"m","t":18.97,"v":58000}],
"p18":[{"s":"k","t":17.626,"v":0},{"s":"k","t":17.83,"v":0},{"s":"k","t":17.86,"v":80000},{"s":"k","t":17.89,"v":500000},{"s":"k","t":17.92,"v":1100000},{"s":"k","t":17.95,"v":1700000},{"s":"k","t":17.975,"v":2050000},{"s":"k","t":18.0,"v":1600000},{"s":"k","t":18.03,"v":900000},{"s":"k","t":18.06,"v":300000},{"s":"k","t":18.1,"v":100000},{"s":"k","t":18.2,"v":30000},{"s":"k","t":18.426,"v":10000},
{"s":"r","t":17.626,"v":0},{"s":"r","t":17.83,"v":0},{"s":"r","t":17.86,"v":100000},{"s":"r","t":17.89,"v":500000},{"s":"r","t":17.92,"v":1600000},{"s":"r","t":17.95,"v":2900000},{"s":"r","t":17.975,"v":3550000},{"s":"r","t":18.0,"v":3000000},{"s":"r","t":18.03,"v":1800000},{"s":"r","t":18.06,"v":700000},{"s":"r","t":18.1,"v":250000},{"s":"r","t":18.15,"v":120000},{"s":"r","t":18.2,"v":60000},{"s":"r","t":18.3,"v":20000},{"s":"r","t":18.426,"v":20000},
{"s":"g","t":17.626,"v":0},{"s":"g","t":17.85,"v":0},{"s":"g","t":17.9,"v":30000},{"s":"g","t":17.95,"v":60000},{"s":"g","t":17.975,"v":70000},{"s":"g","t":18.0,"v":60000},{"s":"g","t":18.05,"v":20000},{"s":"g","t":18.1,"v":0},{"s":"g","t":18.426,"v":0},
{"s":"b","t":17.626,"v":0},{"s":"b","t":17.82,"v":0},{"s":"b","t":17.85,"v":100000},{"s":"b","t":17.88,"v":600000},{"s":"b","t":17.92,"v":2000000},{"s":"b","t":17.95,"v":3500000},{"s":"b","t":17.975,"v":4300000},{"s":"b","t":18.0,"v":3500000},{"s":"b","t":18.03,"v":2000000},{"s":"b","t":18.06,"v":700000},{"s":"b","t":18.1,"v":200000},{"s":"b","t":18.15,"v":100000},{"s":"b","t":18.2,"v":50000},{"s":"b","t":18.3,"v":30000},{"s":"b","t":18.426,"v":30000},
{"s":"m","t":17.626,"v":196000}],
"p19":[{"s":"k","t":19.976,"v":0},{"s":"k","t":20.12,"v":0},{"s":"k","t":20.15,"v":40000},{"s":"k","t":20.175,"v":80000},{"s":"k","t":20.2,"v":105000},{"s":"k","t":20.225,"v":80000},{"s":"k","t":20.25,"v":40000},{"s":"k","t":20.275,"v":10000},{"s":"k","t":20.3,"v":0},{"s":"k","t":20.476,"v":0},
{"s":"r","t":19.976,"v":0},{"s":"r","t":20.1,"v":0},{"s":"r","t":20.12,"v":30000},{"s":"r","t":20.145,"v":200000},{"s":"r","t":20.172,"v":420000},{"s":"r","t":20.2,"v":580000},{"s":"r","t":20.225,"v":470000},{"s":"r","t":20.25,"v":300000},{"s":"r","t":20.275,"v":120000},{"s":"r","t":20.3,"v":20000},{"s":"r","t":20.35,"v":5000},{"s":"r","t":20.4,"v":3000},{"s":"r","t":20.476,"v":5000},
{"s":"g","t":19.976,"v":0},{"s":"g","t":20.11,"v":0},{"s":"g","t":20.13,"v":20000},{"s":"g","t":20.15,"v":100000},{"s":"g","t":20.175,"v":220000},{"s":"g","t":20.2,"v":305000},{"s":"g","t":20.225,"v":250000},{"s":"g","t":20.25,"v":150000},{"s":"g","t":20.275,"v":50000},{"s":"g","t":20.3,"v":10000},{"s":"g","t":20.35,"v":3000},{"s":"g","t":20.476,"v":2000},
{"s":"b","t":19.976,"v":0},{"s":"b","t":20.12,"v":0},{"s":"b","t":20.15,"v":30000},{"s":"b","t":20.175,"v":60000},{"s":"b","t":20.2,"v":78000},{"s":"b","t":20.225,"v":60000},{"s":"b","t":20.25,"v":25000},{"s":"b","t":20.275,"v":5000},{"s":"b","t":20.3,"v":0},{"s":"b","t":20.476,"v":0},
{"s":"m","t":19.976,"v":26000}]
},
"concat":[
{"width":252,"height":257,"data":{"name":"p1"},"title":"ACCN4 613_624","encoding":{"x":{"field":"t","type":"quantitative","title":"Time, min","scale":{"domain":[20.73,21.33],"range":[84,227],"nice":false,"zero":false},"axis":{"values":[21.0],"format":".1f"}},"y":{"field":"v","type":"quantitative","title":"Intensity, cps","scale":{"domain":[0,31600],"range":[218,64],"nice":false},"axis":{"values":[0,10000,20000,30000],"labelExpr":"datum.value == 0 ? '0.0' : replace(format(datum.value, '.1e'), 'e+', 'e')","offset":-84,"titleX":-63}}},"layer":[{"transform":[{"filter":"datum.s != 'm'"}],"mark":{"type":"line","strokeWidth":1.6},"encoding":{"color":{"field":"s","type":"nominal","legend":null}}},{"transform":[{"filter":"datum.s == 'm'"}],"mark":{"type":"point","shape":"triangle-right","filled":true,"size":45,"color":"#10107a","opacity":1,"xOffset":-3}}]},
{"width":252,"height":257,"data":{"name":"p2"},"title":"APOA4 268_284","encoding":{"x":{"field":"t","type":"quantitative","title":"Time, min","scale":{"domain":[16.8,17.74],"range":[78,223],"nice":false,"zero":false},"axis":{"values":[17.0,17.5],"format":".1f"}},"y":{"field":"v","type":"quantitative","title":"Intensity, cps","scale":{"domain":[0,15000],"range":[218,64],"nice":false},"axis":{"values":[0,5000,10000,15000],"labelExpr":"datum.value == 0 ? '0.0' : datum.value < 10000 ? format(datum.value, '.1f') : replace(format(datum.value, '.1e'), 'e+', 'e')","offset":-78,"titleX":-57}}},"layer":[{"transform":[{"filter":"datum.s != 'm'"}],"mark":{"type":"line","strokeWidth":1.6},"encoding":{"color":{"field":"s","type":"nominal","legend":null}}},{"transform":[{"filter":"datum.s == 'm'"}],"mark":{"type":"point","shape":"triangle-right","filled":true,"size":45,"color":"#10107a","opacity":1,"xOffset":-3}}]},
{"width":252,"height":257,"data":{"name":"p3"},"title":"APOA4 260_284","encoding":{"x":{"field":"t","type":"quantitative","title":"Time, min","scale":{"domain":[21.41,22.81],"range":[84,227],"nice":false,"zero":false},"axis":{"values":[22.0],"format":".1f"}},"y":{"field":"v","type":"quantitative","title":"Intensity, cps","scale":{"domain":[0,27800],"range":[218,64],"nice":false},"axis":{"values":[0,5000,10000,15000,20000,25000],"labelExpr":"datum.value == 0 ? '0.0' : datum.value < 10000 ? format(datum.value, '.1f') : replace(format(datum.value, '.1e'), 'e+', 'e')","offset":-84,"titleX":-63}}},"layer":[{"transform":[{"filter":"datum.s != 'm'"}],"mark":{"type":"line","strokeWidth":1.6},"encoding":{"color":{"field":"s","type":"nominal","legend":null}}},{"transform":[{"filter":"datum.s == 'm'"}],"mark":{"type":"point","shape":"triangle-right","filled":true,"size":45,"color":"#10107a","opacity":1,"xOffset":-3}}]},
{"width":252,"height":257,"data":{"name":"p4"},"title":"APOA4 271_283","encoding":{"x":{"field":"t","type":"quantitative","title":"Time, min","scale":{"domain":[19.875,20.475],"range":[79,223],"nice":false,"zero":false},"axis":{"values":[20.0],"format":".1f"}},"y":{"field":"v","type":"quantitative","title":"Intensity, cps","scale":{"domain":[0,37000],"range":[218,64],"nice":false},"axis":{"values":[0,10000,20000,30000,37000],"labelExpr":"datum.value == 0 ? '0.0' : replace(format(datum.value, '.1e'), 'e+', 'e')","offset":-79,"titleX":-58}}},"layer":[{"transform":[{"filter":"datum.s != 'm'"}],"mark":{"type":"line","strokeWidth":1.6},"encoding":{"color":{"field":"s","type":"nominal","legend":null}}},{"transform":[{"filter":"datum.s == 'm'"}],"mark":{"type":"point","shape":"triangle-right","filled":true,"size":45,"color":"#10107a","opacity":1,"xOffset":-3}}]},
{"width":252,"height":257,"data":{"name":"p5"},"title":"APOA4 273_283","encoding":{"x":{"field":"t","type":"quantitative","title":"Time, min","scale":{"domain":[19.212,19.812],"range":[83,233],"nice":false,"zero":false},"axis":{"values":[19.4,19.6],"format":".1f"}},"y":{"field":"v","type":"quantitative","title":"Intensity, cps","scale":{"domain":[0,31800],"range":[218,64],"nice":false},"axis":{"values":[0,10000,20000,30000],"labelExpr":"datum.value == 0 ? '0.0' : replace(format(datum.value, '.1e'), 'e+', 'e')","offset":-83,"titleX":-62}}},"layer":[{"transform":[{"filter":"datum.s != 'm'"}],"mark":{"type":"line","strokeWidth":1.6},"encoding":{"color":{"field":"s","type":"nominal","legend":null}}},{"transform":[{"filter":"datum.s == 'm'"}],"mark":{"type":"point","shape":"triangle-right","filled":true,"size":45,"color":"#10107a","opacity":1,"xOffset":-3}}]},
{"width":252,"height":257,"data":{"name":"p6"},"title":"FIBA 1_16","encoding":{"x":{"field":"t","type":"quantitative","title":"Time, min","scale":{"domain":[18.854,20.506],"range":[83,230],"nice":false,"zero":false},"axis":{"values":[19.0,19.5,20.0],"format":".1f"}},"y":{"field":"v","type":"quantitative","title":"Intensity, cps","scale":{"domain":[0,170000],"range":[218,64],"nice":false},"axis":{"values":[0,50000,100000,150000,170000],"labelExpr":"datum.value == 0 ? '0.0' : replace(format(datum.value, '.1e'), 'e+', 'e')","offset":-83,"titleX":-62}}},"layer":[{"transform":[{"filter":"datum.s != 'm'"}],"mark":{"type":"line","strokeWidth":1.6},"encoding":{"color":{"field":"s","type":"nominal","legend":null}}},{"transform":[{"filter":"datum.s == 'm'"}],"mark":{"type":"point","shape":"triangle-right","filled":true,"size":45,"color":"#10107a","opacity":1,"xOffset":-3}}]},
{"width":252,"height":257,"data":{"name":"p7"},"title":"FIBA 2_16","encoding":{"x":{"field":"t","type":"quantitative","title":"Time, min","scale":{"domain":[19.12,20.75],"range":[78,223],"nice":false,"zero":false},"axis":{"values":[20.0],"format":".1f"}},"y":{"field":"v","type":"quantitative","title":"Intensity, cps","scale":{"domain":[0,4370000],"range":[218,64],"nice":false},"axis":{"values":[0,1000000,2000000,3000000,4000000],"labelExpr":"datum.value == 0 ? '0.0' : replace(format(datum.value, '.1e'), 'e+', 'e')","offset":-78,"titleX":-57}}},"layer":[{"transform":[{"filter":"datum.s != 'm'"}],"mark":{"type":"line","strokeWidth":1.6},"encoding":{"color":{"field":"s","type":"nominal","legend":null}}},{"transform":[{"filter":"datum.s == 'm'"}],"mark":{"type":"point","shape":"triangle-right","filled":true,"size":45,"color":"#10107a","opacity":1,"xOffset":-3}}]},
{"width":252,"height":257,"data":{"name":"p8"},"title":"FIBA 3_15","encoding":{"x":{"field":"t","type":"quantitative","title":"Time, min","scale":{"domain":[20.44,21.34],"range":[84,227],"nice":false,"zero":false},"axis":{"values":[21.0],"format":".1f"}},"y":{"field":"v","type":"quantitative","title":"Intensity, cps","scale":{"domain":[0,710000],"range":[218,64],"nice":false},"axis":{"values":[0,200000,400000,600000,710000],"labelExpr":"datum.value == 0 ? '0.0' : replace(format(datum.value, '.1e'), 'e+', 'e')","offset":-84,"titleX":-63}}},"layer":[{"transform":[{"filter":"datum.s != 'm'"}],"mark":{"type":"line","strokeWidth":1.6},"encoding":{"color":{"field":"s","type":"nominal","legend":null}}},{"transform":[{"filter":"datum.s == 'm'"}],"mark":{"type":"point","shape":"triangle-right","filled":true,"size":45,"color":"#10107a","opacity":1,"xOffset":-3}}]},
{"width":252,"height":257,"data":{"name":"p9"},"title":"FIBA 3_16","encoding":{"x":{"field":"t","type":"quantitative","title":"Time, min","scale":{"domain":[19.063,20.07],"range":[79,222],"nice":false,"zero":false},"axis":{"values":[19.5,20.0],"format":".1f"}},"y":{"field":"v","type":"quantitative","title":"Intensity, cps","scale":{"domain":[0,2060000],"range":[218,64],"nice":false},"axis":{"values":[0,500000,1000000,1500000,2000000],"labelExpr":"datum.value == 0 ? '0.0' : replace(format(datum.value, '.1e'), 'e+', 'e')","offset":-79,"titleX":-58}}},"layer":[{"transform":[{"filter":"datum.s != 'm'"}],"mark":{"type":"line","strokeWidth":1.6},"encoding":{"color":{"field":"s","type":"nominal","legend":null}}},{"transform":[{"filter":"datum.s == 'm'"}],"mark":{"type":"point","shape":"triangle-right","filled":true,"size":45,"color":"#10107a","opacity":1,"xOffset":-3}}]},
{"width":252,"height":257,"data":{"name":"p10"},"title":"FIBA 4_15","encoding":{"x":{"field":"t","type":"quantitative","title":"Time, min","scale":{"domain":[20.58,21.58],"range":[82,233],"nice":false,"zero":false},"axis":{"values":[21.0],"format":".1f"}},"y":{"field":"v","type":"quantitative","title":"Intensity, cps","scale":{"domain":[0,152000],"range":[218,64],"nice":false},"axis":{"values":[0,50000,100000,150000],"labelExpr":"datum.value == 0 ? '0.0' : replace(format(datum.value, '.1e'), 'e+', 'e')","offset":-82,"titleX":-61}}},"layer":[{"transform":[{"filter":"datum.s != 'm'"}],"mark":{"type":"line","strokeWidth":1.6},"encoding":{"color":{"field":"s","type":"nominal","legend":null}}},{"transform":[{"filter":"datum.s == 'm'"}],"mark":{"type":"point","shape":"triangle-right","filled":true,"size":45,"color":"#10107a","opacity":1,"xOffset":-3}}]},
{"width":252,"height":257,"data":{"name":"p11"},"title":"FIBA 4_16","encoding":{"x":{"field":"t","type":"quantitative","title":"Time, min","scale":{"domain":[19.134,20.4],"range":[83,225],"nice":false,"zero":false},"axis":{"values":[19.5,20.0],"format":".1f"}},"y":{"field":"v","type":"quantitative","title":"Intensity, cps","scale":{"domain":[0,1190000],"range":[218,64],"nice":false},"axis":{"values":[0,200000,400000,600000,800000,1000000,1190000],"labelExpr":"datum.value == 0 ? '0.00' : replace(format(datum.value, '.2e'), 'e+', 'e')","offset":-83,"titleX":-62}}},"layer":[{"transform":[{"filter":"datum.s != 'm'"}],"mark":{"type":"line","strokeWidth":1.6},"encoding":{"color":{"field":"s","type":"nominal","legend":null}}},{"transform":[{"filter":"datum.s == 'm'"}],"mark":{"type":"point","shape":"triangle-right","filled":true,"size":45,"color":"#10107a","opacity":1,"xOffset":-3}}]},
{"width":252,"height":257,"data":{"name":"p12"},"title":"FIBA 5_15","encoding":{"x":{"field":"t","type":"quantitative","title":"Time, min","scale":{"domain":[20.525,21.75],"range":[76,223],"nice":false,"zero":false},"axis":{"values":[21.0,21.5],"format":".1f"}},"y":{"field":"v","type":"quantitative","title":"Intensity, cps","scale":{"domain":[0,660000],"range":[218,64],"nice":false},"axis":{"values":[0,200000,400000,600000],"labelExpr":"datum.value == 0 ? '0.0' : replace(format(datum.value, '.1e'), 'e+', 'e')","offset":-76,"titleX":-55}}},"layer":[{"transform":[{"filter":"datum.s != 'm'"}],"mark":{"type":"line","strokeWidth":1.6},"encoding":{"color":{"field":"s","type":"nominal","legend":null}}},{"transform":[{"filter":"datum.s == 'm'"}],"mark":{"type":"point","shape":"triangle-right","filled":true,"size":45,"color":"#10107a","opacity":1,"xOffset":-3}}]},
{"width":252,"height":257,"data":{"name":"p13"},"title":"FIBA 5_16","encoding":{"x":{"field":"t","type":"quantitative","title":"Time, min","scale":{"domain":[18.91,20.5],"range":[84,227],"nice":false,"zero":false},"axis":{"values":[19.5,20.0],"format":".1f"}},"y":{"field":"v","type":"quantitative","title":"Intensity, cps","scale":{"domain":[0,5800000],"range":[218,64],"nice":false},"axis":{"values":[0,1000000,2000000,3000000,4000000,5000000,5800000],"labelExpr":"datum.value == 0 ? '0.0' : replace(format(datum.value, '.1e'), 'e+', 'e')","offset":-84,"titleX":-63}}},"layer":[{"transform":[{"filter":"datum.s != 'm'"}],"mark":{"type":"line","strokeWidth":1.6},"encoding":{"color":{"field":"s","type":"nominal","legend":null}}},{"transform":[{"filter":"datum.s == 'm'"}],"mark":{"type":"point","shape":"triangle-right","filled":true,"size":45,"color":"#10107a","opacity":1,"xOffset":-3}}]},
{"width":252,"height":257,"data":{"name":"p14"},"title":"FIBA 6_15","encoding":{"x":{"field":"t","type":"quantitative","title":"Time, min","scale":{"domain":[20.534,21.034],"range":[79,224],"nice":false,"zero":false},"axis":{"values":[21.0],"format":".1f"}},"y":{"field":"v","type":"quantitative","title":"Intensity, cps","scale":{"domain":[0,75000],"range":[218,64],"nice":false},"axis":{"values":[0,20000,40000,60000,75000],"labelExpr":"datum.value == 0 ? '0.0' : replace(format(datum.value, '.1e'), 'e+', 'e')","offset":-79,"titleX":-58}}},"layer":[{"transform":[{"filter":"datum.s != 'm'"}],"mark":{"type":"line","strokeWidth":1.6},"encoding":{"color":{"field":"s","type":"nominal","legend":null}}},{"transform":[{"filter":"datum.s == 'm'"}],"mark":{"type":"point","shape":"triangle-right","filled":true,"size":45,"color":"#10107a","opacity":1,"xOffset":-3}}]},
{"width":252,"height":257,"data":{"name":"p15"},"title":"FIBA 6_16","encoding":{"x":{"field":"t","type":"quantitative","title":"Time, min","scale":{"domain":[19.016,19.608],"range":[82,233],"nice":false,"zero":false},"axis":{"values":[19.2,19.4],"format":".1f"}},"y":{"field":"v","type":"quantitative","title":"Intensity, cps","scale":{"domain":[0,1500000],"range":[218,64],"nice":false},"axis":{"values":[0,500000,1000000,1500000],"labelExpr":"datum.value == 0 ? '0.0' : replace(format(datum.value, '.1e'), 'e+', 'e')","offset":-82,"titleX":-61}}},"layer":[{"transform":[{"filter":"datum.s != 'm'"}],"mark":{"type":"line","strokeWidth":1.6},"encoding":{"color":{"field":"s","type":"nominal","legend":null}}},{"transform":[{"filter":"datum.s == 'm'"}],"mark":{"type":"point","shape":"triangle-right","filled":true,"size":45,"color":"#10107a","opacity":1,"xOffset":-3}}]},
{"width":252,"height":257,"data":{"name":"p16"},"title":"FIBA 7_15","encoding":{"x":{"field":"t","type":"quantitative","title":"Time, min","scale":{"domain":[20.9375,21.533],"range":[82,225],"nice":false,"zero":false},"axis":{"values":[21.0,21.5],"format":".1f"}},"y":{"field":"v","type":"quantitative","title":"Intensity, cps","scale":{"domain":[0,400000],"range":[218,64],"nice":false},"axis":{"values":[0,100000,200000,300000,400000],"labelExpr":"datum.value == 0 ? '0.0' : replace(format(datum.value, '.1e'), 'e+', 'e')","offset":-82,"titleX":-61}}},"layer":[{"transform":[{"filter":"datum.s != 'm'"}],"mark":{"type":"line","strokeWidth":1.6},"encoding":{"color":{"field":"s","type":"nominal","legend":null}}},{"transform":[{"filter":"datum.s == 'm'"}],"mark":{"type":"point","shape":"triangle-right","filled":true,"size":45,"color":"#10107a","opacity":1,"xOffset":-3}}]},
{"width":252,"height":257,"data":{"name":"p17"},"title":"FIBA 7_16","encoding":{"x":{"field":"t","type":"quantitative","title":"Time, min","scale":{"domain":[18.97,20.275],"range":[81,223],"nice":false,"zero":false},"axis":{"values":[19.0,20.0],"format":".1f"}},"y":{"field":"v","type":"quantitative","title":"Intensity, cps","scale":{"domain":[0,1290000],"range":[218,64],"nice":false},"axis":{"values":[0,500000,1000000,1290000],"labelExpr":"datum.value == 0 ? '0.00' : replace(format(datum.value, '.2e'), 'e+', 'e')","offset":-81,"titleX":-60}}},"layer":[{"transform":[{"filter":"datum.s != 'm'"}],"mark":{"type":"line","strokeWidth":1.6},"encoding":{"color":{"field":"s","type":"nominal","legend":null}}},{"transform":[{"filter":"datum.s == 'm'"}],"mark":{"type":"point","shape":"triangle-right","filled":true,"size":45,"color":"#10107a","opacity":1,"xOffset":-3}}]},
{"width":252,"height":257,"data":{"name":"p18"},"title":"LBN 306_313","encoding":{"x":{"field":"t","type":"quantitative","title":"Time, min","scale":{"domain":[17.626,18.426],"range":[84,227],"nice":false,"zero":false},"axis":{"values":[18.0],"format":".1f"}},"y":{"field":"v","type":"quantitative","title":"Intensity, cps","scale":{"domain":[0,4350000],"range":[218,64],"nice":false},"axis":{"values":[0,1000000,2000000,3000000,4000000],"labelExpr":"datum.value == 0 ? '0.0' : replace(format(datum.value, '.1e'), 'e+', 'e')","offset":-84,"titleX":-63}}},"layer":[{"transform":[{"filter":"datum.s != 'm'"}],"mark":{"type":"line","strokeWidth":1.6},"encoding":{"color":{"field":"s","type":"nominal","legend":null}}},{"transform":[{"filter":"datum.s == 'm'"}],"mark":{"type":"point","shape":"triangle-right","filled":true,"size":45,"color":"#10107a","opacity":1,"xOffset":-3}}]},
{"width":252,"height":257,"data":{"name":"p19"},"title":"APOE 194_214","encoding":{"x":{"field":"t","type":"quantitative","title":"Time, min","scale":{"domain":[19.976,20.476],"range":[77,222],"nice":false,"zero":false},"axis":{"values":[20.2],"format":".1f"}},"y":{"field":"v","type":"quantitative","title":"Intensity, cps","scale":{"domain":[0,580000],"range":[218,64],"nice":false},"axis":{"values":[0,100000,200000,300000,400000,500000,580000],"labelExpr":"datum.value == 0 ? '0.0' : replace(format(datum.value, '.1e'), 'e+', 'e')","offset":-77,"titleX":-56}}},"layer":[{"transform":[{"filter":"datum.s != 'm'"}],"mark":{"type":"line","strokeWidth":1.6},"encoding":{"color":{"field":"s","type":"nominal","legend":null}}},{"transform":[{"filter":"datum.s == 'm'"}],"mark":{"type":"point","shape":"triangle-right","filled":true,"size":45,"color":"#10107a","opacity":1,"xOffset":-3}}]},
{"width":252,"height":257,"data":{"values":[]},"mark":"point","view":{"stroke":null,"fill":"#ffffff"}}
],
"config":{
"view":{"stroke":"#9c9c94","strokeWidth":2,"fill":"#ffffff"},
"range":{"category":["#3535f5","#2f9a2f","#a5a5a5","#f03535"]},
"axis":{"grid":false,"domainColor":"#000000","domainWidth":1,"tickColor":"#000000","tickWidth":1,"tickSize":4,"labelFont":"DejaVu Sans","labelFontSize":10,"labelFontWeight":"bold","labelColor":"#1a1a1a","labelOverlap":false,"labelFlush":false,"labelPadding":2},
"axisX":{"offset":-39,"labelPadding":5,"titleFont":"DejaVu Sans","titleFontSize":10,"titleFontWeight":"bold","titleColor":"#1a1a1a","titlePadding":7},
"axisY":{"titleFont":"Liberation Sans","titleFontSize":15,"titleFontWeight":"normal","titleColor":"#222222"},
"title":{"font":"Liberation Sans","fontSize":24,"fontWeight":"bold","color":"#000000","anchor":"middle","frame":"group","offset":-45,"baseline":"alphabetic"}
}
}
